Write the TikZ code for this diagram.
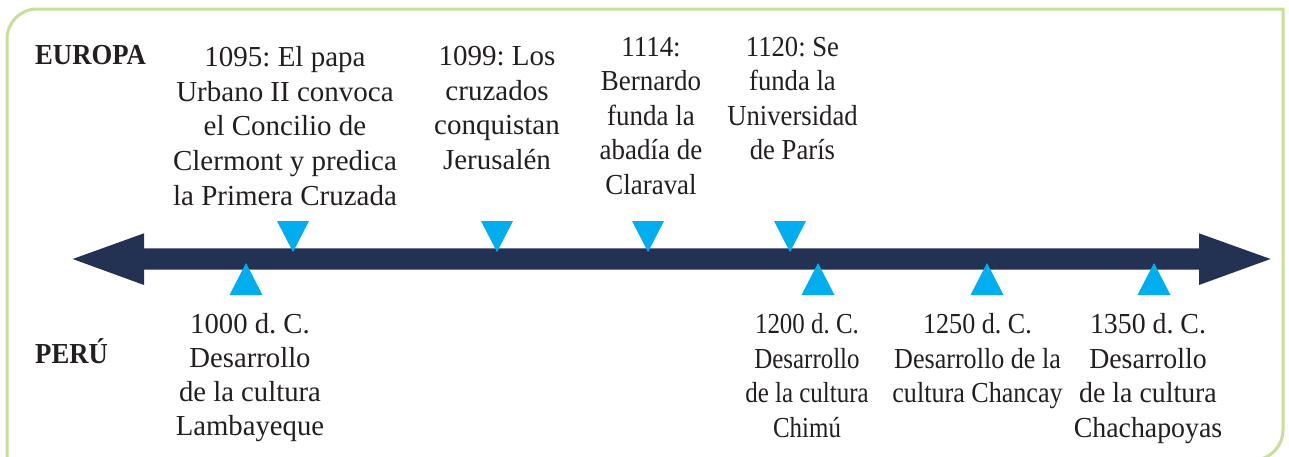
\documentclass[tikz,border=0pt]{standalone}
\usepackage{fontspec}
\setmainfont{Liberation Serif}
\newfontfamily\fsA{Liberation Serif}
\newfontfamily\fsB[FakeStretch=0.93]{Liberation Serif}
\newfontfamily\fsC[FakeStretch=0.92]{Liberation Serif}
\newfontfamily\fsD[FakeStretch=0.99]{Liberation Serif}
\newfontfamily\fsE[FakeStretch=0.86]{Liberation Serif}
\newfontfamily\fsF[FakeStretch=0.90]{Liberation Serif}
\newfontfamily\fsG[FakeStretch=0.96]{Liberation Serif}
\newfontfamily\fsH[FakeStretch=0.92]{Liberation Serif}
\frenchspacing
\definecolor{navy}{RGB}{35,49,83}
\definecolor{cyanmark}{RGB}{0,174,239}
\definecolor{framegreen}{RGB}{198,224,152}
\definecolor{ink}{RGB}{35,31,32}
\tikzset{
  evt/.style={anchor=north, inner sep=0pt, align=center, text=ink},
  region/.style={anchor=base west, inner sep=0pt, text=ink, font=\fsH\bfseries\fontsize{29}{35}\selectfont},
  downmark/.style={fill=cyanmark},
  upmark/.style={fill=cyanmark},
}
\begin{document}
\begin{tikzpicture}[x=1pt,y=-1pt]
\useasboundingbox (0,0) rectangle (1289,456);
% frame
\draw[framegreen, line width=3pt]
  (7,470) -- (7,39) .. controls (7,22.4) and (20.4,9) .. (37,9)
  -- (1283,9) -- (1283,430) .. controls (1283,446.6) and (1269.6,460) .. (1253,460)
  -- (7,460);
% timeline arrow
\fill[navy] (72.7,259) -- (144,233.3) -- (144,248.3) -- (1199,248.3) -- (1199,233.3)
  -- (1270.5,259) -- (1199,285) -- (1199,269.5) -- (144,269.5) -- (144,285) -- cycle;
% markers
\foreach \cx/\nm in {293/d1,497/d2,648/d3,790/d4}{
  \coordinate (\nm) at (\cx,252);
  \fill[downmark] (\cx-16,221) -- (\cx+16,221) -- (\nm) -- cycle;
}
\foreach \cx/\nm in {246/u1,818/u2,987/u3,1154/u4}{
  \coordinate (\nm) at (\cx,263);
  \fill[upmark] (\cx-16.5,295) -- (\cx+16.5,295) -- (\nm) -- cycle;
}
% region labels
\node[region] (europa) at (35,64) {EUROPA};
\node[region] (peru) at (35,363) {PERÚ};
% Europe events
\node[evt, font=\fsA\fontsize{29}{34.75}\selectfont] (e1) at (285,46)
  {1095: El papa\\Urbano II convoca\\el Concilio de\\Clermont y predica\\la Primera Cruzada};
\node[evt, font=\fsA\fontsize{29}{34.75}\selectfont] (e2) at (497,46)
  {1099: Los\\cruzados\\conquistan\\Jerusalén};
\node[evt, font=\fsB\fontsize{29}{34.5}\selectfont] (e3) at (651,37)
  {1114:\\Bernardo\\funda la\\abadía de\\Claraval};
\node[evt, font=\fsC\fontsize{29}{34.5}\selectfont] (e4) at (792.5,37)
  {1120: Se\\funda la\\Universidad\\de París};
% Peru events
\node[evt, font=\fsD\fontsize{29}{34}\selectfont] (p1) at (250,313)
  {1000 d. C.\\Desarrollo\\de la cultura\\Lambayeque};
\node[evt, font=\fsE\fontsize{29}{34.7}\selectfont] (p2) at (807,313)
  {1200 d. C.\\Desarrollo\\de la cultura\\Chimú};
\node[evt, font=\fsF\fontsize{29}{34.7}\selectfont] (p3) at (977.5,313)
  {1250 d. C.\\Desarrollo de la\\cultura Chancay};
\node[evt, font=\fsG\fontsize{29}{34.7}\selectfont] (p4) at (1148,313)
  {1350 d. C.\\Desarrollo\\de la cultura\\Chachapoyas};
\end{tikzpicture}
\end{document}
